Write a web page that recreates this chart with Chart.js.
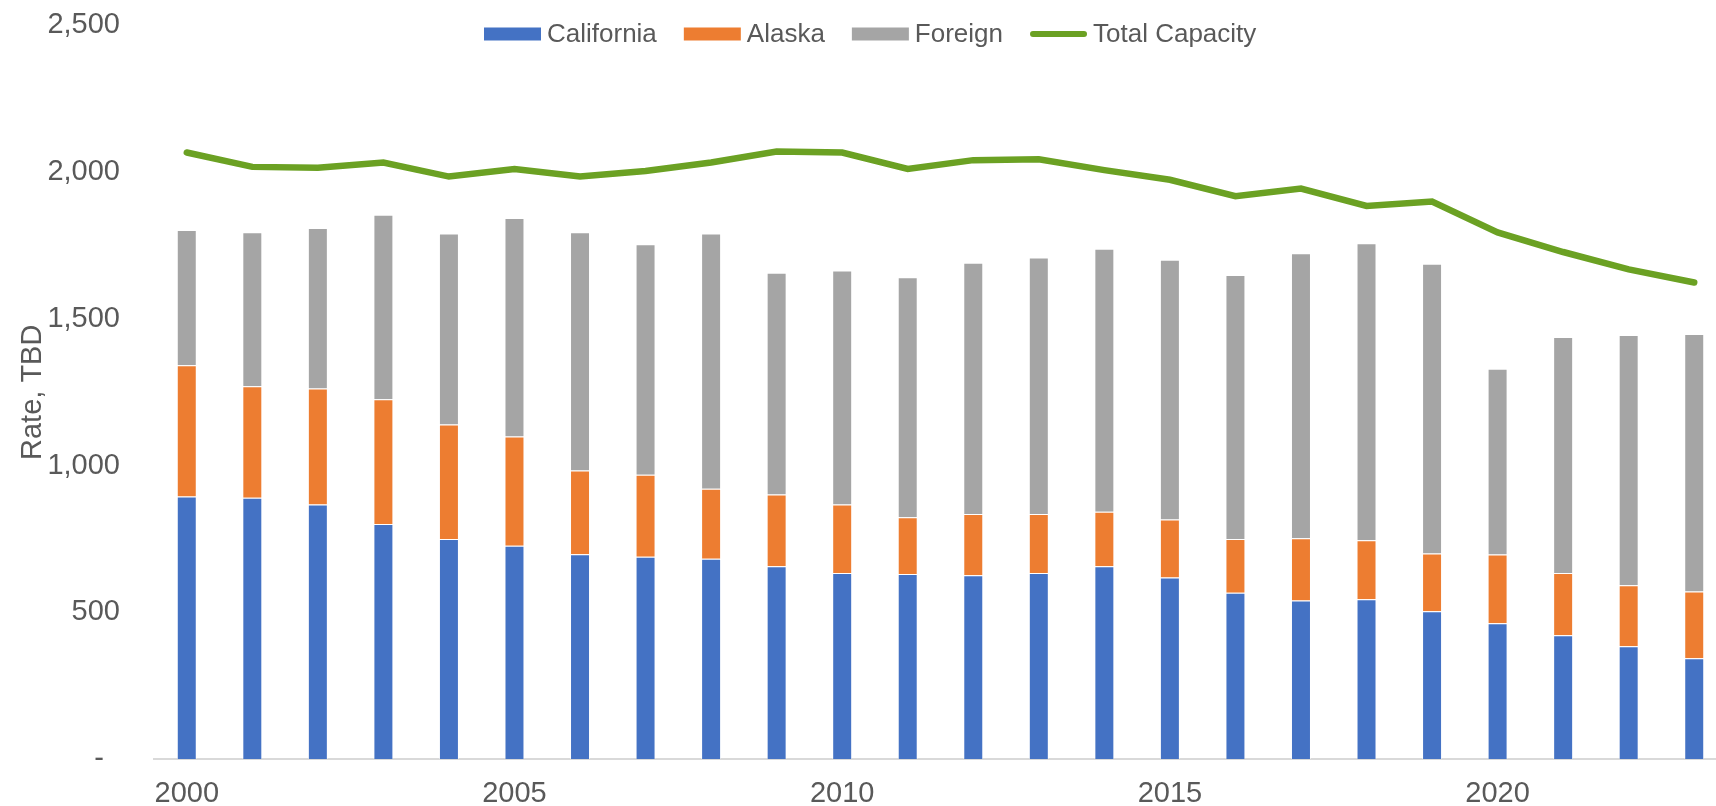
<!DOCTYPE html>
<html>
<head>
<meta charset="utf-8">
<title>Supply by source</title>
<script src="https://cdn.jsdelivr.net/npm/chart.js@4.4.0/dist/chart.umd.min.js"></script>
<style>
    html, body { margin: 0; padding: 0; background: #fff; overflow: hidden; }
    #wrap { position: relative; width: 1727px; height: 854px; margin-top: -26px; }
</style>
</head>
<body>
<div id="wrap"><canvas id="chartCanvas"></canvas></div>
<script>
const years = ['2000', '2001', '2002', '2003', '2004', '2005', '2006', '2007', '2008', '2009', '2010', '2011',
    '2012', '2013', '2014', '2015', '2016', '2017', '2018', '2019', '2020', '2021', '2022', '2023'];
const california = [895, 891, 868, 801, 750, 727, 698, 690, 683, 657, 634, 631,
    627, 634, 657, 619, 567, 541, 545, 504, 463, 422, 385, 344];
const alaska = [447, 380, 395, 425, 390, 372, 286, 279, 238, 245, 234, 193,
    208, 201, 186, 198, 183, 212, 201, 197, 234, 212, 208, 227];
const foreign = [461, 524, 547, 629, 651, 745, 811, 785, 870, 755, 797, 818,
    856, 874, 896, 885, 900, 971, 1012, 987, 633, 804, 852, 878];
const totalCapacity = [2067, 2018, 2015, 2033, 1985, 2011, 1985, 2004, 2033, 2070, 2067, 2011,
    2041, 2044, 2007, 1974, 1918, 1944, 1885, 1900, 1795, 1728, 1669, 1624];
const yTicks = [0, 500, 1000, 1500, 2000, 2500];

const textColor = '#595959';
const fontFamily = '"Liberation Sans", Arial, sans-serif';

// legend drawn across the top of the plot, Excel style
// (canvas is shifted up 26px by the wrapper, so y is in canvas coords)
const topLegend = {
    id: 'topLegend',
    afterDraw(chart) {
        const ctx = chart.ctx;
        const cy = 26 + 34;
        let x = 484;
        ctx.save();
        ctx.font = '26px ' + fontFamily;
        ctx.textBaseline = 'middle';
        ctx.textAlign = 'left';
        chart.data.datasets.forEach((ds) => {
            if (ds.type === 'line') {
                ctx.strokeStyle = ds.borderColor;
                ctx.lineWidth = 6;
                ctx.lineCap = 'round';
                ctx.beginPath();
                ctx.moveTo(x + 3, cy);
                ctx.lineTo(x + 54, cy);
                ctx.stroke();
            } else {
                ctx.fillStyle = ds.backgroundColor;
                ctx.fillRect(x, cy - 6.5, 57, 13);
            }
            ctx.fillStyle = textColor;
            ctx.fillText(ds.label, x + 63, cy + 1);
            x += 63 + ctx.measureText(ds.label).width + 27;
        });
        ctx.restore();
    }
};

function barSet(label, data, color) {
    return {
        type: 'bar',
        label: label,
        data: data,
        backgroundColor: color,
        borderColor: 'rgba(255,255,255,0.55)',
        borderWidth: 1,
        stack: 'supply',
        barPercentage: 0.305,
        categoryPercentage: 1,
        order: 1
    };
}

const canvas = document.getElementById('chartCanvas');
new Chart(canvas, {
    data: {
        labels: years,
        datasets: [
            barSet('California', california, '#4472C4'),
            barSet('Alaska', alaska, '#ED7D31'),
            barSet('Foreign', foreign, '#A5A5A5'),
            {
                type: 'line',
                label: 'Total Capacity',
                data: totalCapacity,
                borderColor: '#6BA123',
                backgroundColor: '#6BA123',
                borderWidth: 6.5,
                borderCapStyle: 'round',
                pointRadius: 0,
                tension: 0,
                stack: 'capacity',
                order: 0
            }
        ]
    },
    options: {
        responsive: true,
        maintainAspectRatio: false,
        animation: false,
        layout: { padding: { top: 23, left: 0, right: 0, bottom: 0 } },
        plugins: {
            legend: { display: false },
            tooltip: { enabled: false }
        },
        scales: {
            x: {
                stacked: true,
                grid: { display: false, drawTicks: false },
                border: { display: true, color: '#D9D9D9', width: 2 },
                ticks: {
                    color: textColor,
                    font: { family: fontFamily, size: 29 },
                    padding: 17,
                    autoSkip: false,
                    maxRotation: 0,
                    callback: function (value, index) {
                        return index % 5 === 0 ? this.getLabelForValue(value) : '';
                    }
                }
            },
            y: {
                stacked: true,
                min: yTicks[0],
                max: yTicks[yTicks.length - 1],
                afterFit: (scale) => { scale.width = 154; },
                afterBuildTicks: (scale) => { scale.ticks = yTicks.map((v) => ({ value: v })); },
                grid: { display: false, drawTicks: false },
                border: { display: false },
                ticks: {
                    color: textColor,
                    font: { family: fontFamily, size: 29 },
                    padding: 34,
                    callback: (v) => v === 0 ? '-\u2007' : v.toLocaleString('en-US')
                },
                title: {
                    display: true,
                    text: 'Rate, TBD',
                    color: textColor,
                    font: { family: fontFamily, size: 29 },
                    padding: { top: 16, bottom: 0 }
                }
            }
        }
    },
    plugins: [topLegend]
});
</script>
</body>
</html>
